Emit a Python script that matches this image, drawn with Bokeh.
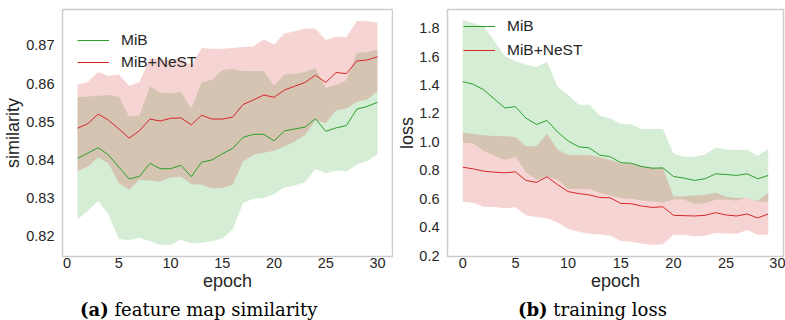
from bokeh.plotting import figure
from bokeh.models import Range1d, FixedTicker, NumeralTickFormatter, Legend, LegendItem, Div
from bokeh.layouts import row, column
from bokeh.embed import file_html
from bokeh.resources import INLINE

# ---------------- data: (a) feature map similarity ----------------
epochs_a = list(range(1, 31))
sim_mib = [0.8404, 0.8418, 0.8432, 0.8413, 0.8381, 0.8350, 0.8357, 0.8391, 0.8377, 0.8377,
           0.8386, 0.8356, 0.8394, 0.8400, 0.8416, 0.8430, 0.8459, 0.8467, 0.8467, 0.8450,
           0.8476, 0.8481, 0.8486, 0.8508, 0.8475, 0.8484, 0.8490, 0.8533, 0.8540, 0.8551]
sim_mib_hi = [0.8564, 0.8566, 0.8568, 0.8570, 0.8565, 0.8513, 0.8517, 0.8593, 0.8576, 0.8574,
              0.8578, 0.8535, 0.8603, 0.8610, 0.8635, 0.8638, 0.8633, 0.8633, 0.8633, 0.8594,
              0.8624, 0.8626, 0.8630, 0.8641, 0.8589, 0.8596, 0.8609, 0.8680, 0.8683, 0.8689]
sim_mib_lo = [0.8244, 0.8267, 0.8293, 0.8257, 0.8193, 0.8190, 0.8196, 0.8187, 0.8178, 0.8178,
              0.8191, 0.8181, 0.8183, 0.8187, 0.8194, 0.8218, 0.8287, 0.8298, 0.8300, 0.8311,
              0.8328, 0.8333, 0.8342, 0.8376, 0.8365, 0.8372, 0.8370, 0.8388, 0.8397, 0.8415]
sim_nest = [0.8483, 0.8495, 0.8520, 0.8504, 0.8481, 0.8457, 0.8477, 0.8507, 0.8502, 0.8509,
            0.8510, 0.8492, 0.8517, 0.8507, 0.8507, 0.8512, 0.8545, 0.8557, 0.8570, 0.8564,
            0.8583, 0.8593, 0.8603, 0.8622, 0.8603, 0.8629, 0.8626, 0.8659, 0.8662, 0.8670]
sim_nest_hi = [0.8597, 0.8604, 0.8630, 0.8620, 0.8624, 0.8594, 0.8604, 0.8667, 0.8663, 0.8663,
               0.8667, 0.8648, 0.8693, 0.8691, 0.8691, 0.8693, 0.8696, 0.8697, 0.8716, 0.8702,
               0.8731, 0.8737, 0.8744, 0.8744, 0.8714, 0.8723, 0.8721, 0.8764, 0.8763, 0.8760]
sim_nest_lo = [0.8370, 0.8383, 0.8406, 0.8391, 0.8339, 0.8322, 0.8348, 0.8346, 0.8343, 0.8354,
               0.8356, 0.8337, 0.8335, 0.8326, 0.8326, 0.8335, 0.8396, 0.8413, 0.8419, 0.8424,
               0.8435, 0.8448, 0.8465, 0.8504, 0.8496, 0.8530, 0.8535, 0.8552, 0.8558, 0.8580]

# ---------------- data: (b) training loss ----------------
epochs_b = list(range(0, 30))
loss_mib = [1.4243, 1.4057, 1.3664, 1.3014, 1.2388, 1.2481, 1.1670, 1.1229, 1.1510, 1.0696,
            1.0070, 0.9652, 0.9582, 0.9072, 0.8957, 0.8539, 0.8492, 0.8261, 0.8145, 0.8168,
            0.7565, 0.7449, 0.7287, 0.7403, 0.7751, 0.7704, 0.7635, 0.7751, 0.7403, 0.7635]
loss_mib_hi = [1.858, 1.835, 1.812, 1.708, 1.603, 1.568, 1.545, 1.527, 1.564, 1.388,
               1.332, 1.262, 1.262, 1.186, 1.165, 1.128, 1.123, 1.090, 1.090, 1.090,
               0.919, 0.896, 0.896, 0.912, 0.958, 0.947, 0.942, 0.942, 0.903, 0.949]
loss_mib_lo = [0.995, 0.988, 0.935, 0.903, 0.873, 0.896, 0.787, 0.734, 0.757, 0.734,
               0.668, 0.668, 0.668, 0.641, 0.622, 0.605, 0.600, 0.588, 0.580, 0.572,
               0.594, 0.594, 0.562, 0.568, 0.592, 0.594, 0.585, 0.608, 0.578, 0.578]
loss_nest = [0.8214, 0.8099, 0.7936, 0.7867, 0.7821, 0.7890, 0.7287, 0.7148, 0.7542, 0.6988,
             0.6501, 0.6362, 0.6269, 0.6083, 0.6060, 0.5666, 0.5643, 0.5478, 0.5386, 0.5432,
             0.4829, 0.4806, 0.4783, 0.4829, 0.5014, 0.4852, 0.4783, 0.4922, 0.4643, 0.4922]
loss_nest_hi = [1.065, 1.056, 1.047, 1.042, 1.040, 1.035, 0.970, 0.970, 1.058, 0.947,
                0.907, 0.907, 0.907, 0.891, 0.873, 0.849, 0.845, 0.831, 0.819, 0.815,
                0.617, 0.617, 0.622, 0.627, 0.641, 0.613, 0.604, 0.606, 0.583, 0.641]
loss_nest_lo = [0.578, 0.571, 0.543, 0.541, 0.532, 0.539, 0.483, 0.471, 0.462, 0.432,
                0.386, 0.367, 0.353, 0.348, 0.339, 0.302, 0.297, 0.284, 0.274, 0.279,
                0.346, 0.346, 0.335, 0.339, 0.358, 0.355, 0.353, 0.379, 0.346, 0.346]

series_names = ["MiB", "MiB+NeST"]
x_ticks = [0, 5, 10, 15, 20, 25, 30]
sim_ticks = [0.82, 0.83, 0.84, 0.85, 0.86, 0.87]
loss_ticks = [0.2, 0.4, 0.6, 0.8, 1.0, 1.2, 1.4, 1.6, 1.8]

GREEN = "#2ca02c"
RED = "#d62728"
SANS = "Liberation Sans"
TXT = "#262626"


def style(p, yticks, yfmt, ylabel, ylabel_standoff):
    p.outline_line_color = "#cccccc"
    p.outline_line_width = 1.5
    p.xgrid.grid_line_color = None
    p.ygrid.grid_line_color = None
    p.background_fill_color = "white"
    p.border_fill_color = "white"
    p.xaxis.ticker = FixedTicker(ticks=x_ticks)
    p.yaxis.ticker = FixedTicker(ticks=yticks)
    p.yaxis.formatter = NumeralTickFormatter(format=yfmt)
    for ax in p.axis:
        ax.axis_line_color = None
        ax.major_tick_line_color = None
        ax.minor_tick_line_color = None
        ax.major_tick_out = 0
        ax.major_tick_in = 0
        ax.major_label_text_font = SANS
        ax.major_label_text_font_size = "14.5px"
        ax.major_label_text_color = TXT
        ax.axis_label_text_font = SANS
        ax.axis_label_text_font_size = "18px"
        ax.axis_label_text_font_style = "normal"
        ax.axis_label_text_color = TXT
    p.yaxis.major_label_standoff = 8
    p.xaxis.major_label_standoff = 1
    p.xaxis.axis_label = "epoch"
    p.xaxis.axis_label_standoff = 0
    p.yaxis.axis_label = ylabel
    p.yaxis.axis_label_standoff = ylabel_standoff


def bands_and_lines(p, x, m, mhi, mlo, n, nhi, nlo):
    p.varea(x=x, y1=mlo, y2=mhi, fill_color=GREEN, fill_alpha=0.2)
    p.varea(x=x, y1=nlo, y2=nhi, fill_color=RED, fill_alpha=0.2)
    r1 = p.line(x, m, line_color=GREEN, line_width=1)
    r2 = p.line(x, n, line_color=RED, line_width=1)
    return r1, r2


def add_legend(p, r1, r2, loc, spacing):
    lg = Legend(items=[LegendItem(label=series_names[0], renderers=[r1]),
                       LegendItem(label=series_names[1], renderers=[r2])],
                location=loc, spacing=spacing, padding=0, margin=0,
                glyph_width=32, glyph_height=20, label_height=20, label_standoff=12,
                label_text_font=SANS, label_text_font_size="15.5px", label_text_color=TXT,
                background_fill_alpha=0, border_line_alpha=0)
    p.add_layout(lg, "center")


# ---------------- panel (a) ----------------
p1 = figure(width=393, height=296, output_backend="svg", toolbar_location=None,
            x_range=Range1d(-0.45, 31.45), y_range=Range1d(0.8147, 0.8794),
            min_border_left=61, min_border_right=1, min_border_top=9, min_border_bottom=39)
style(p1, sim_ticks, "0.00", "similarity", 0)
a1, a2 = bands_and_lines(p1, epochs_a, sim_mib, sim_mib_hi, sim_mib_lo,
                         sim_nest, sim_nest_hi, sim_nest_lo)
add_legend(p1, a1, a2, (15, 184), 2)

# ---------------- panel (b) ----------------
p2 = figure(width=392, height=296, output_backend="svg", toolbar_location=None,
            x_range=Range1d(-1.45, 30.45), y_range=Range1d(0.193, 1.932),
            min_border_left=54, min_border_right=2, min_border_top=6, min_border_bottom=40)
style(p2, loss_ticks, "0.0", "loss", -1)
b1, b2 = bands_and_lines(p2, epochs_b, loss_mib, loss_mib_hi, loss_mib_lo,
                         loss_nest, loss_nest_hi, loss_nest_lo)
add_legend(p2, b1, b2, (16, 196), 4)

CAP = ("<div style=\"font-family:'DejaVu Serif',serif;font-size:18px;line-height:18px;"
       "padding-top:5px;padding-left:{pad}px;color:black;white-space:nowrap;\">"
       "<b>{tag}</b>&nbsp;{text}</div>")
cap1 = Div(text=CAP.format(pad=80, tag="(a)", text="feature map similarity"),
           width=393, height=24, margin=0)
cap2 = Div(text=CAP.format(pad=125, tag="(b)", text="training loss"),
           width=392, height=24, margin=0)

layout = column(row(p1, p2, spacing=0), row(cap1, cap2, spacing=0), spacing=0)
open("out.html", "w").write(file_html(layout, INLINE))
